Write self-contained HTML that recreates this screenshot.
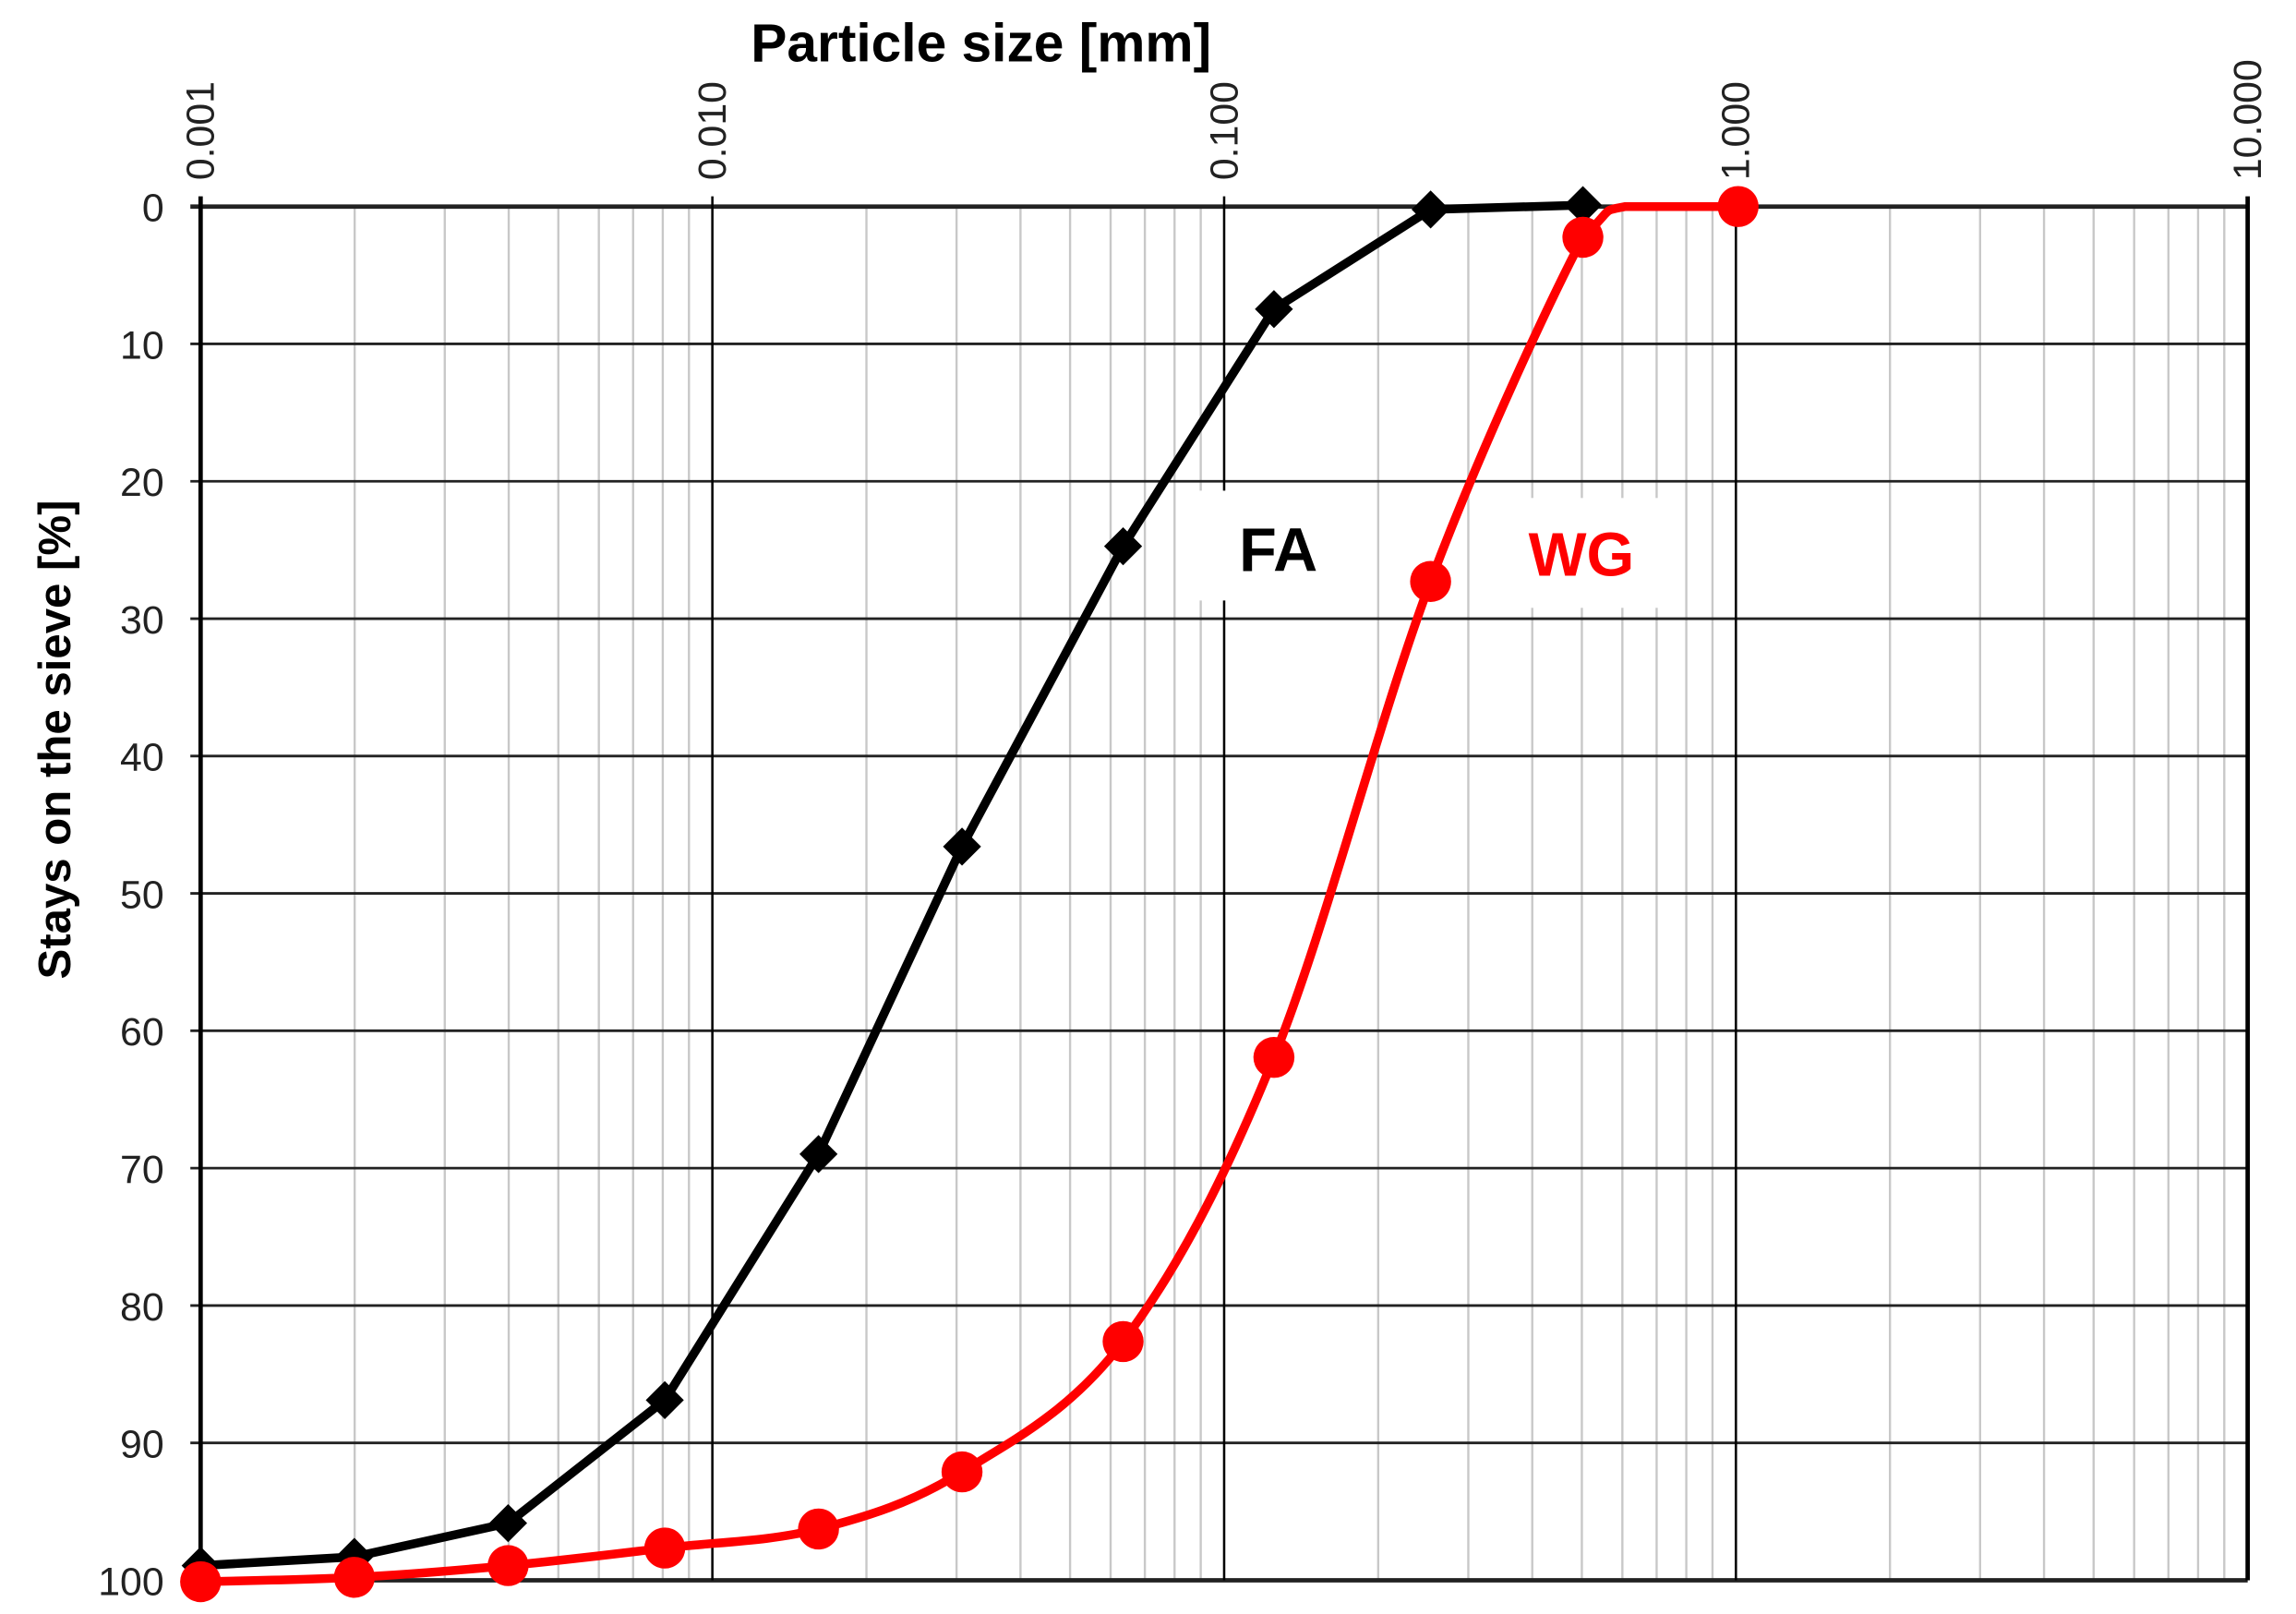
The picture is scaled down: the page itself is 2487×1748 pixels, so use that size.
<!DOCTYPE html>
<html><head><meta charset="utf-8"><style>
html,body{margin:0;padding:0;background:#fff}
svg{display:block}
text{font-family:"Liberation Sans",Arial,sans-serif}
</style></head><body>
<svg id="s" width="2487" height="1748" viewBox="0 0 1568 1102" xmlns="http://www.w3.org/2000/svg">
<rect width="1568" height="1102" fill="#fff"/>
<g id="grid"></g>
<text x="670" y="42" font-size="37" font-weight="bold" text-anchor="middle">Particle size [mm]</text>
<text transform="translate(48,505) rotate(-90)" font-size="31" font-weight="bold" text-anchor="middle">Stays on the sieve [%]</text>
<g id="lbl" font-size="27" fill="#222"></g>
<g id="series"></g>
<rect x="815" y="335" width="118" height="75" fill="#fff"/>
<text x="873" y="390" font-size="42" font-weight="bold" text-anchor="middle">FA</text>
<rect x="1030" y="340" width="105" height="75" fill="#fff"/>
<text x="1080" y="393" font-size="42" font-weight="bold" fill="#ff0000" text-anchor="middle">WG</text>
</svg>
<script>
var NS="http://www.w3.org/2000/svg";
function el(p,t,a){var e=document.createElementNS(NS,t);for(var k in a)e.setAttribute(k,a[k]);document.getElementById(p).appendChild(e);return e;}
var L=137,R=1535,T=141,B=1079,D=(R-L)/4;
for(var d=0;d<4;d++){for(var m=2;m<10;m++){var x=L+D*(d+Math.log10(m));el("grid","line",{x1:x,x2:x,y1:T,y2:B,stroke:"#c8c8c8","stroke-width":1.5});}}
for(var i=0;i<=10;i++){var y=T+(B-T)*i/10;el("grid","line",{x1:L-7,x2:R,y1:y,y2:y,stroke:"#222","stroke-width":i==0||i==10?3:1.8});
var t=el("lbl","text",{x:112,y:y+10,"text-anchor":"end"});t.textContent=i*10;}
var labs=["0.001","0.010","0.100","1.000","10.000"];
for(var d=0;d<=4;d++){var x=L+D*d;el("grid","line",{x1:x,x2:x,y1:T-7,y2:B,stroke:"#000","stroke-width":d==0||d==4?3:1.6});
var t=el("lbl","text",{transform:"translate("+(x+9)+","+(T-18)+") rotate(-90)"});t.textContent=labs[d];}
var FA=[[137,1069],[242,1063],[347,1040],[454,956],[559,788],[657,578],[767,373],[870,211],[977,143],[1081,140]];
var WG=[[137,1080],[242,1077],[347,1069],[454,1057],[559,1044],[657,1005],[767,916],[870,722],[977,397],[1081,162],[1110,141],[1187,141]];
el("series","polyline",{points:FA.map(function(p){return p.join(",")}).join(" "),fill:"none",stroke:"#000","stroke-width":6,"stroke-linejoin":"round"});
var d="M"+WG[0][0]+","+WG[0][1];
for(var i=0;i<WG.length-1;i++){var p0=WG[Math.max(0,i-1)],p1=WG[i],p2=WG[i+1],p3=WG[Math.min(WG.length-1,i+2)];
var c1=[p1[0]+(p2[0]-p0[0])/6,p1[1]+(p2[1]-p0[1])/6],c2=[p2[0]-(p3[0]-p1[0])/6,p2[1]-(p3[1]-p1[1])/6];
c1[1]=Math.max(c1[1],141);c2[1]=Math.max(c2[1],141);
d+=" C"+c1.join(",")+" "+c2.join(",")+" "+p2.join(",");}
el("series","path",{d:d,fill:"none",stroke:"#ff0000","stroke-width":6});
FA.forEach(function(p){var s=13;el("series","polygon",{points:(p[0])+","+(p[1]-s)+" "+(p[0]+s)+","+p[1]+" "+p[0]+","+(p[1]+s)+" "+(p[0]-s)+","+p[1],fill:"#000"});});
WG.forEach(function(p,i){if(i==10)return;el("series","circle",{cx:p[0],cy:p[1],r:14,fill:"#ff0000"});});
</script>
</body></html>
